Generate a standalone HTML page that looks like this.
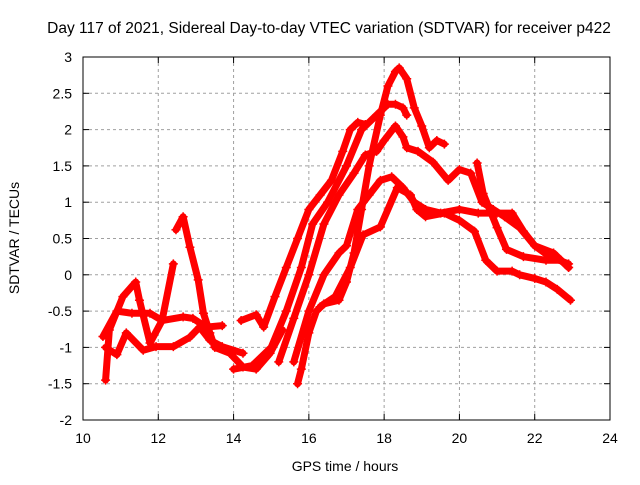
<!DOCTYPE html>
<html><head><meta charset="utf-8"><style>
body{margin:0;background:#fff}
svg text{font-family:"Liberation Sans",sans-serif;fill:#000}
</style></head><body>
<svg id="chart" width="640" height="480" viewBox="0 0 640 480">
<text x="329" y="33" font-size="15.5" text-anchor="middle">Day 117 of 2021, Sidereal Day-to-day VTEC variation (SDTVAR) for receiver p422</text>
<g id="grid"></g>
<g id="ticks"></g>
<g id="series"></g>
<rect x="83" y="57" width="527" height="363" fill="none" stroke="#000" stroke-width="1"/>
<text x="345" y="471" font-size="14" text-anchor="middle">GPS time / hours</text>
<text transform="translate(19,238) rotate(-90)" font-size="14" text-anchor="middle">SDTVAR / TECUs</text>
</svg>
<script>
const xTicks=[10,12,14,16,18,20,22,24];
const yTicks=[-2,-1.5,-1,-0.5,0,0.5,1,1.5,2,2.5,3];
const yTickLabels=["-2","-1.5","-1","-0.5","0","0.5","1","1.5","2","2.5","3"];
const trackA_t=[15.7,15.8,16.0,16.2,16.4,16.8,17.0,17.2,17.4,17.6,17.9,18.1,18.3,18.4,18.6,18.8,19.0,19.2,19.4,19.6];
const trackA_v=[-1.5,-1.3,-0.8,-0.5,-0.4,-0.35,-0.1,0.3,0.9,1.5,2.2,2.6,2.8,2.85,2.7,2.3,2.05,1.75,1.85,1.8];
const trackB_t=[14.0,14.5,15.0,15.4,15.8,16.1,16.5,17.0,17.4,17.8,18.1,18.3,18.5,18.6];
const trackB_v=[-1.3,-1.25,-1.0,-0.5,0.1,0.7,1.0,1.5,2.0,2.2,2.35,2.35,2.3,2.2];
const trackC_t=[15.2,15.6,16.0,16.4,16.8,17.2,17.5,17.8,18.0,18.3,18.5,18.6,18.9,19.3,19.7,20.0,20.3,20.6,20.9,21.2,21.6,22.0,22.5,22.9];
const trackC_v=[-1.2,-0.6,0.0,0.7,1.1,1.4,1.65,1.7,1.85,2.05,1.9,1.75,1.7,1.55,1.3,1.45,1.4,1.0,0.9,0.8,0.65,0.4,0.3,0.1];
const trackD_t=[15.6,16.0,16.4,16.8,17.0,17.3,17.6,17.9,18.2,18.5,18.8,19.1,19.5,20.0,20.5,21.0,21.4,21.7,22.0,22.4,22.9];
const trackD_v=[-1.2,-0.5,0.0,0.3,0.4,0.9,1.1,1.3,1.35,1.2,1.0,0.9,0.85,0.9,0.85,0.85,0.85,0.6,0.4,0.25,0.15];
const trackE_t=[16.3,16.7,17.1,17.44,17.9,18.35,18.7,18.87,19.1,19.6,20.0,20.4,20.7,21.0,21.4,21.6,22.0,22.3,22.6,22.95];
const trackE_v=[-0.44,-0.3,0.1,0.55,0.66,1.2,1.1,0.9,0.8,0.85,0.75,0.6,0.2,0.05,0.05,0.0,-0.05,-0.1,-0.2,-0.35];
const trackF_t=[20.47,20.63,21.0,21.25,21.7,22.3,22.7,22.9];
const trackF_v=[1.54,1.12,0.65,0.35,0.25,0.2,0.2,0.1];
const trackG_t=[14.2,14.6,14.8,15.1,15.4,15.7,16.0,16.3,16.6,16.9,17.1,17.3,17.5];
const trackG_v=[-0.63,-0.55,-0.72,-0.3,0.1,0.5,0.9,1.1,1.3,1.7,2.0,2.1,2.07];
const trackL1_t=[10.6,10.7,11.06,11.4,11.5,11.78,12.1,12.4];
const trackL1_v=[-1.45,-0.76,-0.3,-0.1,-0.35,-0.94,-0.63,0.15];
const trackL2_t=[12.47,12.66,12.84,13.06,13.2,13.37,13.5,13.9,14.25,14.6,14.97,15.3];
const trackL2_v=[0.62,0.8,0.38,-0.07,-0.53,-0.8,-1.0,-1.08,-1.27,-1.3,-1.08,-0.76];
const trackL3_t=[10.53,10.9,11.3,11.78,12.1,12.66,12.92,13.27,13.7];
const trackL3_v=[-0.85,-0.5,-0.53,-0.53,-0.63,-0.58,-0.6,-0.72,-0.7];
const trackL4_t=[10.6,10.9,11.15,11.6,11.94,12.4,12.84,13.1,13.37,13.7,14.25];
const trackL4_v=[-1.0,-1.1,-0.8,-1.04,-0.99,-0.99,-0.86,-0.72,-0.9,-0.99,-1.08];
const tracks=[[trackA_t,trackA_v],[trackB_t,trackB_v],[trackC_t,trackC_v],[trackD_t,trackD_v],[trackE_t,trackE_v],[trackF_t,trackF_v],[trackG_t,trackG_v],[trackL1_t,trackL1_v],[trackL2_t,trackL2_v],[trackL3_t,trackL3_v],[trackL4_t,trackL4_v]];
const NS="http://www.w3.org/2000/svg";
const X0=83,X1=610,Y0=420,Y1=57;
function xs(t){return X0+(t-10)/(24-10)*(X1-X0);}
function ys(v){return Y0-(v+2)/(3+2)*(Y0-Y1);}
function mk(tag,attrs,parent){const e=document.createElementNS(NS,tag);for(const k in attrs)e.setAttribute(k,attrs[k]);parent.appendChild(e);return e;}
const grid=document.getElementById('grid'),ticks=document.getElementById('ticks'),series=document.getElementById('series');
xTicks.forEach((t,i)=>{const x=xs(t);
 if(i>0&&i<xTicks.length-1){const g=mk('line',{x1:x,x2:x,y1:Y1,y2:Y0,stroke:'#a0a0a0','stroke-dasharray':'3,3'},grid);
 
 }
 mk('line',{x1:x,x2:x,y1:Y0,y2:Y0-6,stroke:'#000'},ticks);
 mk('line',{x1:x,x2:x,y1:Y1,y2:Y1+6,stroke:'#000'},ticks);
 const l=mk('text',{x:x,y:443,'font-size':14,'text-anchor':'middle'},ticks);l.textContent=String(t);
 
 
});
yTicks.forEach((v,i)=>{const y=ys(v);
 if(i>0&&i<yTicks.length-1){const g=mk('line',{x1:X0,x2:X1,y1:y,y2:y,stroke:'#a0a0a0','stroke-dasharray':'3,3'},grid);
 
 }
 mk('line',{x1:X0,x2:X0+6,y1:y,y2:y,stroke:'#000'},ticks);
 mk('line',{x1:X1,x2:X1-6,y1:y,y2:y,stroke:'#000'},ticks);
 const l=mk('text',{x:72,y:y+5,'font-size':14,'text-anchor':'end'},ticks);l.textContent=yTickLabels[i];
 
 
});
tracks.forEach(([T,V],k)=>{
 const pts=T.map((t,i)=>xs(t)+','+ys(V[i])).join(' ');
 const p=mk('polyline',{points:pts,fill:'none',stroke:'#ff0000','stroke-width':7,'stroke-linejoin':'round','stroke-linecap':'round'},series);
 
 
 T.forEach((t,i)=>{const x=xs(t),y=ys(V[i]);
  const m=mk('path',{d:`M${x-4.5},${y}H${x+4.5}M${x},${y-4.5}V${y+4.5}`,stroke:'#ff0000','stroke-width':1.5},series);
  
  
 });
});
</script>
</body></html>
